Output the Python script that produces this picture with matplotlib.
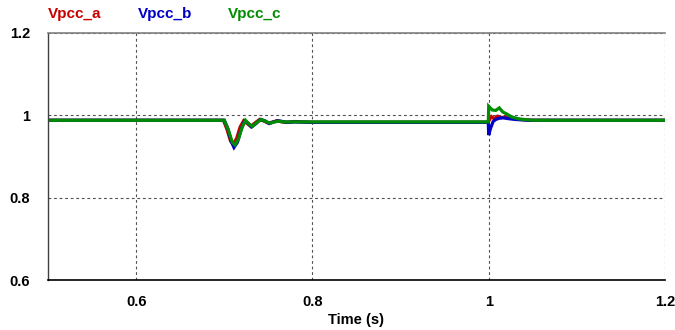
import matplotlib
matplotlib.use("Agg")
import matplotlib.pyplot as plt
from matplotlib import font_manager

names = {f.name for f in font_manager.fontManager.ttflist}
fam = ["Liberation Sans Narrow", "Liberation Sans", "DejaVu Sans"]
fam = [f for f in fam if f in names] or ["DejaVu Sans"]
plt.rcParams['font.family'] = fam

# ---- data ----
t_a = [0.5, 0.699, 0.703, 0.707, 0.710, 0.714, 0.718, 0.722, 0.726, 0.730, 0.735,
       0.740, 0.745, 0.750, 0.755, 0.760, 0.765, 0.770, 0.780, 0.800, 0.900, 0.9995,
       1.0, 1.003, 1.006, 1.010, 1.014, 1.018, 1.025, 1.035, 1.050, 1.2]
v_a = [0.988, 0.988, 0.966, 0.938, 0.930, 0.944, 0.972, 0.987, 0.980, 0.973, 0.982,
       0.990, 0.986, 0.981, 0.984, 0.987, 0.984, 0.983, 0.985, 0.983, 0.983, 0.983,
       0.986, 0.997, 0.992, 0.998, 0.994, 0.996, 0.993, 0.990, 0.988, 0.988]

t_b = [0.5, 0.700, 0.704, 0.708, 0.711, 0.715, 0.719, 0.723, 0.727, 0.731, 0.736,
       0.741, 0.746, 0.751, 0.756, 0.761, 0.766, 0.771, 0.780, 0.800, 0.900, 0.9995,
       1.0, 1.002, 1.005, 1.008, 1.012, 1.016, 1.022, 1.030, 1.045, 1.2]
v_b = [0.988, 0.988, 0.968, 0.936, 0.922, 0.935, 0.965, 0.986, 0.981, 0.972, 0.980,
       0.990, 0.987, 0.980, 0.984, 0.987, 0.985, 0.983, 0.984, 0.983, 0.983, 0.983,
       0.952, 0.968, 0.985, 0.990, 0.993, 0.994, 0.992, 0.990, 0.988, 0.988]

t_c = [0.5, 0.700, 0.705, 0.709, 0.712, 0.716, 0.720, 0.724, 0.728, 0.732, 0.737,
       0.742, 0.747, 0.752, 0.757, 0.762, 0.767, 0.772, 0.780, 0.800, 0.900, 0.9995,
       1.0, 1.004, 1.008, 1.012, 1.016, 1.020, 1.026, 1.035, 1.050, 1.2]
v_c = [0.988, 0.988, 0.962, 0.935, 0.928, 0.942, 0.970, 0.988, 0.979, 0.973, 0.983,
       0.990, 0.985, 0.981, 0.984, 0.986, 0.984, 0.984, 0.984, 0.984, 0.984, 0.984,
       1.022, 1.013, 1.012, 1.018, 1.008, 1.004, 0.996, 0.991, 0.988, 0.988]

series = [("Vpcc_a", t_a, v_a, "#c80000"),
          ("Vpcc_b", t_b, v_b, "#0000c8"),
          ("Vpcc_c", t_c, v_c, "#008c00")]

x_ticks = [0.6, 0.8, 1.0, 1.2]
x_labels = ["0.6", "0.8", "1", "1.2"]
y_ticks = [0.6, 0.8, 1.0, 1.2]
y_labels = ["0.6", "0.8", "1", "1.2"]

fig = plt.figure(figsize=(6.75, 3.3), dpi=100)
ax = fig.add_axes([48/675, 50/330, 617/675, 247/330])

for name, t, v, c in series:
    ax.plot(t, v, color=c, lw=2.3, solid_joinstyle="miter")

ax.set_xlim(0.5, 1.2)
ax.set_ylim(0.6, 1.2)
ax.set_xticks(x_ticks)
ax.set_xticklabels(x_labels)
ax.set_yticks(y_ticks)
ax.set_yticklabels(y_labels)
ax.tick_params(length=0, labelsize=10.5)
for lab in ax.get_xticklabels() + ax.get_yticklabels():
    lab.set_fontweight("bold")
ax.tick_params(axis="y", pad=13)
ax.tick_params(axis="x", pad=11)
ax.grid(True, color="#505050", ls=(0, (2.5, 2.5)), lw=0.8)

ax.spines["right"].set_visible(False)
ax.spines["top"].set_color("#808080")
ax.spines["top"].set_linewidth(1.2)
ax.spines["left"].set_color("#404040")
ax.spines["left"].set_linewidth(1.0)
ax.spines["bottom"].set_color("#000000")
ax.spines["bottom"].set_linewidth(1.2)

ax.set_xlabel("Time (s)", fontsize=10.5, fontweight="bold", labelpad=3)

lx = [48, 138, 228]
for (name, t, v, c), x in zip(series, lx):
    fig.text(x/675, 1 - 14/330, name, color=c, fontsize=11, fontweight="bold",
             ha="left", va="center")

fig.savefig("out.png", dpi=100)
